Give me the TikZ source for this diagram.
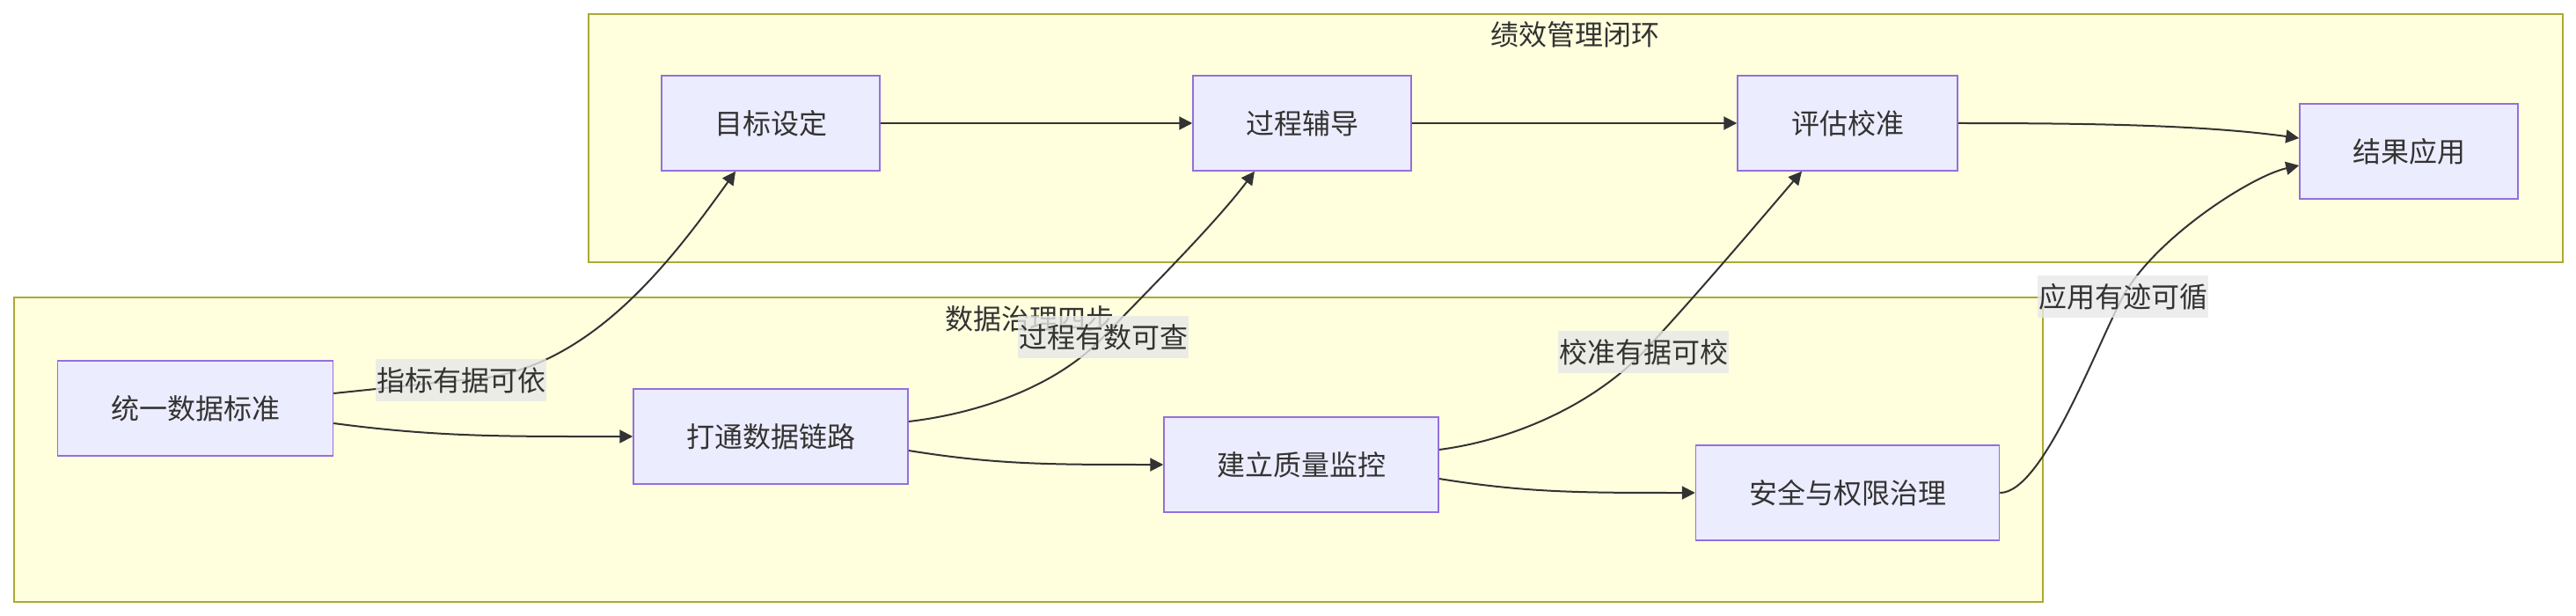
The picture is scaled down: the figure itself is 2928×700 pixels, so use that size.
\documentclass[tikz,border=0pt]{standalone}
\usepackage{fontspec}
\setmainfont{Noto Sans CJK SC}
\usetikzlibrary{arrows.meta,calc}
\definecolor{nodefill}{HTML}{ECECFF}
\definecolor{nodeline}{HTML}{9370DB}
\definecolor{clfill}{HTML}{FFFFDE}
\definecolor{clline}{HTML}{AAAA33}
\definecolor{txt}{HTML}{333333}
\definecolor{lblbg}{HTML}{E8E8E8}
\pgfdeclarelayer{bg}
\pgfdeclarelayer{edgelayer}
\pgfsetlayers{bg,edgelayer,main}
\begin{document}
\begin{tikzpicture}[x=1pt,y=-1pt,
  box/.style={draw=nodeline, fill=nodefill, line width=1.5pt, minimum height=108pt, inner sep=0pt, text=txt, font=\fontsize{32}{38}\selectfont},
  cluster/.style={draw=clline, fill=clfill, line width=1.5pt, inner sep=0pt},
  ctitle/.style={text=txt, inner sep=0pt, font=\fontsize{32}{38}\selectfont},
  elabel/.style={fill=lblbg, fill opacity=0.8, text opacity=1, text=txt, inner xsep=1pt, inner ysep=0pt, minimum height=48pt, font=\fontsize{32}{38}\selectfont},
  conn/.style={draw=txt, line width=2pt, -{Triangle[length=15pt,width=15pt]}}
]
\useasboundingbox (0,0) rectangle (2928,700);

\begin{pgfonlayer}{bg}
  \node[cluster, minimum width=2244pt, minimum height=282pt] (topc) at (1791,157) {};
  \node[cluster, minimum width=2306pt, minimum height=346pt] (botc) at (1169,511) {};
  \node[ctitle] (toptitle) at (1790,39) {绩效管理闭环};
  \node[ctitle] (bottitle) at (1170,362) {数据治理四步};
\end{pgfonlayer}

% nodes
\node[box, minimum width=313pt] (A) at (222,464) {统一数据标准};
\node[box, minimum width=312pt] (B) at (876,496) {打通数据链路};
\node[box, minimum width=312pt] (C) at (1479,528) {建立质量监控};
\node[box, minimum width=345pt] (D) at (2100,560) {安全与权限治理};
\node[box, minimum width=248pt] (E) at (876,140) {目标设定};
\node[box, minimum width=248pt] (F) at (1480,140) {过程辅导};
\node[box, minimum width=250pt] (G) at (2100,140) {评估校准};
\node[box, minimum width=248pt] (H) at (2738,172) {结果应用};

% edge labels
\node[elabel] (L1) at (524,432) {指标有据可依};
\node[elabel] (L2) at (1254,383) {过程有数可查};
\node[elabel] (L3) at (1868,400) {校准有据可校};
\node[elabel] (L4) at (2413,337) {应用有迹可循};

\begin{pgfonlayer}{edgelayer}
  \draw[conn] ($(A.east)+(0,17)$) .. controls +(120,16) and +(-140,0) .. (B.west);
  \draw[conn] ($(B.east)+(0,16)$) .. controls +(100,16) and +(-130,0) .. (C.west);
  \draw[conn] ($(C.east)+(0,16)$) .. controls +(100,16) and +(-130,0) .. (D.west);
  \draw[conn] (E.east) -- (F.west);
  \draw[conn] (F.east) -- (G.west);
  \draw[conn] (G.east) .. controls +(150,0) and +(-110,-15) .. ($(H.west)+(0,-15)$);
  \draw[conn] ($(A.east)+(0,-17)$) -- (L1.center) .. controls +(140,-4) and +(-76,106) .. ($(E.south)+(-40,0)$);
  \draw[conn] ($(B.east)+(0,-17)$) .. controls +(78,-9) and +(-54,57) .. (L2.center) .. controls +(46,-48) and +(-46,61) .. ($(F.south)+(-54,0)$);
  \draw[conn] ($(C.east)+(0,-17)$) .. controls +(85,-11) and +(-58,60) .. (L3.center) .. controls +(52,-55) and +(-48,56) .. ($(G.south)+(-52,0)$);
  \draw[conn] (D.east) .. controls +(48,0) and +(-33,63) .. (L4.center) .. controls +(37,-67) and +(-54,12) .. ($(H.west)+(0,16)$);
\end{pgfonlayer}
\end{tikzpicture}
\end{document}
